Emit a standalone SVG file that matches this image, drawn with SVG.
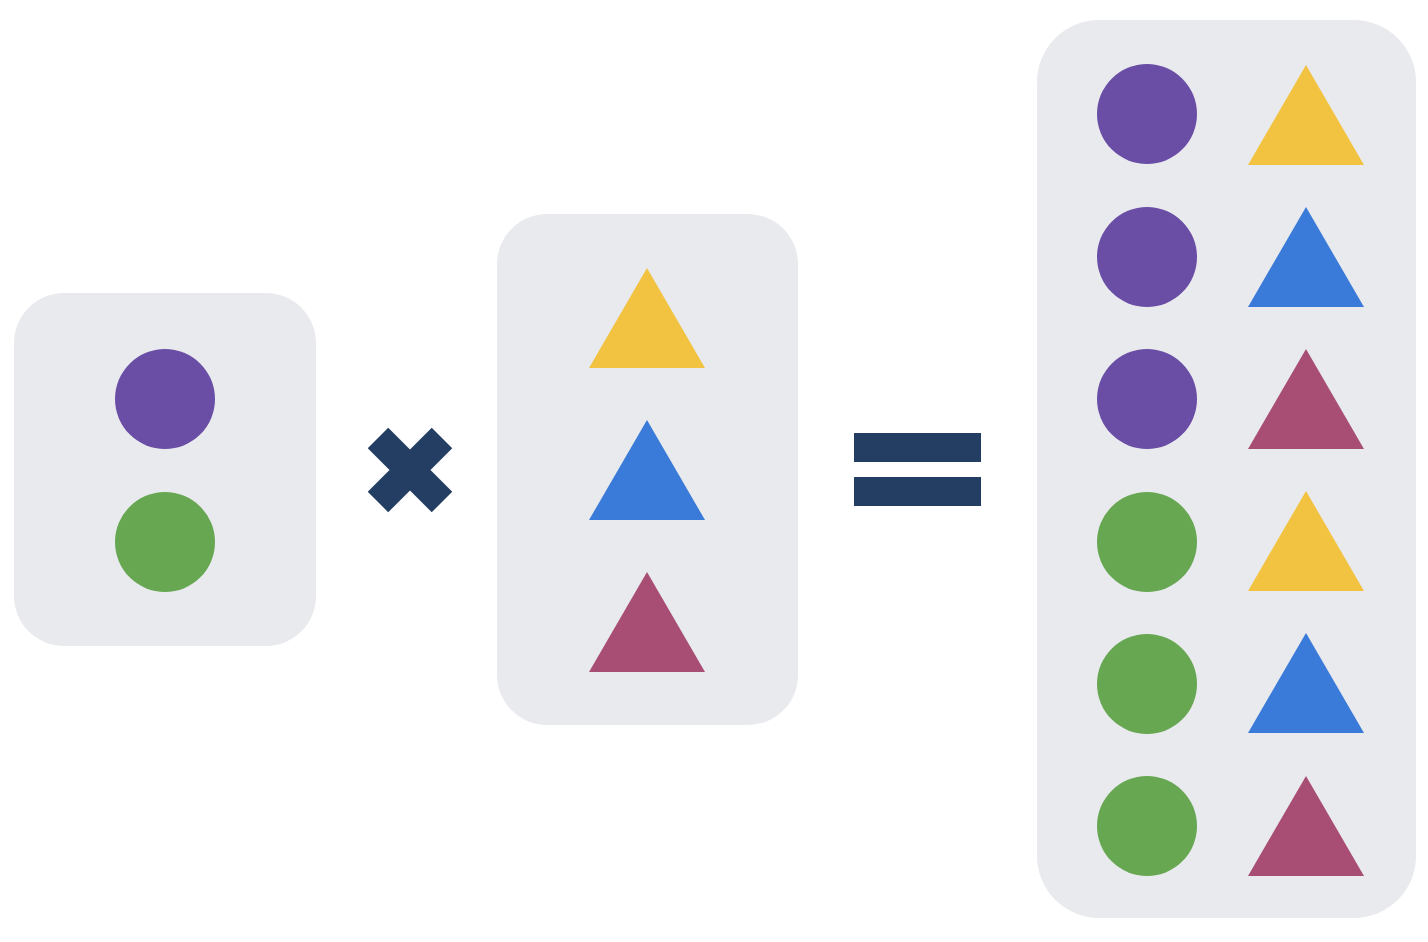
<svg xmlns="http://www.w3.org/2000/svg" width="1428" height="942" viewBox="0 0 1428 942">
<style>
.box{fill:#e9eaee}.p{fill:#6a4ea6}.g{fill:#67a752}.y{fill:#f2c241}.b{fill:#3a7ad8}.r{fill:#a84e75}.op{fill:#243e63}
</style>
<defs>
<circle id="c" r="50"/>
<polygon id="t" points="0,0 58,100 -58,100"/>
</defs>
<rect width="1428" height="942" fill="#fff"/>
<g id="left">
<rect class="box" x="14" y="293" width="302" height="353" rx="50"/>
<use href="#c" class="p" x="165" y="399"/>
<use href="#c" class="g" x="165" y="542"/>
</g>
<g id="times">
<path d="M378,438 L442,502 M442,438 L378,502" stroke="#243e63" stroke-width="29" fill="none"/>
</g>
<g id="middle">
<rect class="box" x="497" y="214" width="301" height="511" rx="50"/>
<use href="#t" class="y" x="647" y="268"/>
<use href="#t" class="b" x="647" y="420"/>
<use href="#t" class="r" x="647" y="572"/>
</g>
<g id="equals">
<rect class="op" x="854" y="433" width="127" height="29"/>
<rect class="op" x="854" y="477" width="127" height="29"/>
</g>
<g id="right">
<rect class="box" x="1037" y="20" width="379" height="898" rx="62"/>
<use href="#c" class="p" x="1147" y="114"/>
<use href="#c" class="p" x="1147" y="257"/>
<use href="#c" class="p" x="1147" y="399"/>
<use href="#c" class="g" x="1147" y="542"/>
<use href="#c" class="g" x="1147" y="684"/>
<use href="#c" class="g" x="1147" y="826"/>
<use href="#t" class="y" x="1306" y="65"/>
<use href="#t" class="b" x="1306" y="207"/>
<use href="#t" class="r" x="1306" y="349"/>
<use href="#t" class="y" x="1306" y="491"/>
<use href="#t" class="b" x="1306" y="633"/>
<use href="#t" class="r" x="1306" y="776"/>
</g>
</svg>
